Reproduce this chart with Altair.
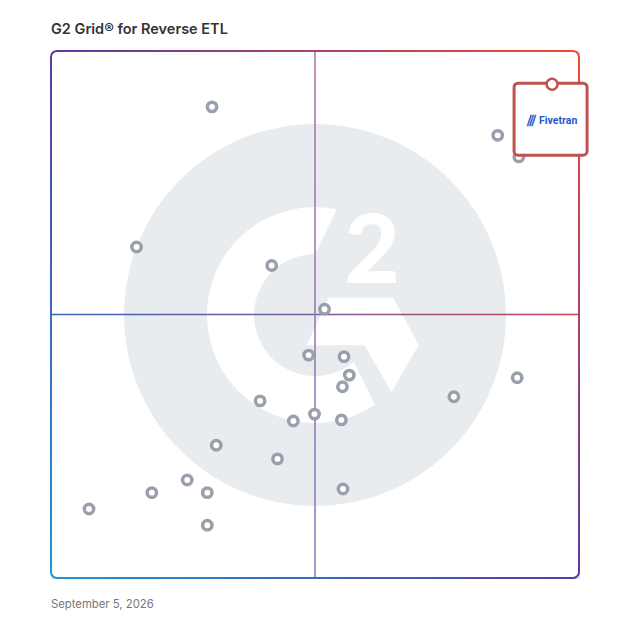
import math
import altair as alt
import pandas as pd

# ---- data ----
vendor_x = [30.5, 16.2, 41.8, 51.8, 48.8, 55.5, 56.5, 55.2, 39.6, 45.9, 49.9, 55.0,
            31.3, 42.9, 25.8, 19.1, 29.6, 7.2, 29.6, 55.3, 76.3, 88.3, 84.6, 88.6]
vendor_y = [89.4, 62.8, 59.3, 51.0, 42.3, 42.0, 38.5, 36.3, 33.6, 29.8, 31.1, 30.0,
            25.2, 22.6, 18.6, 16.2, 16.2, 13.1, 10.0, 16.9, 34.4, 38.0, 84.0, 79.9]
leader_name = ["Fivetran"]
leader_x = [94.9]
leader_y = [93.7]

title_text = "G2 Grid® for Reverse ETL"
date_text = "September 5, 2026"

# background logo shapes (data units)
logo_center = [50.0, 49.9]
logo_poly_id = [1] * 6 + [2] * 3 + [3] * 3
logo_poly_x = [52.65, 64.77, 69.60, 64.49, 59.38, 48.48,
               50.0, 50.0, 54.07,
               57.33, 56.38, 61.29]
logo_poly_y = [53.13, 53.13, 44.21, 35.39, 44.21, 44.21,
               61.5, 70.4, 69.98,
               40.97, 40.25, 32.81]

W, H = 528, 527
FONT = "Inter"
LOGO_GRAY = "#e9ecef"

xs = alt.Scale(domain=[0, 100], nice=False, zero=False)
ys = alt.Scale(domain=[0, 100], nice=False, zero=False)


def X(f="x"):
    return alt.X(f"{f}:Q", scale=xs, axis=None)


def Y(f="y"):
    return alt.Y(f"{f}:Q", scale=ys, axis=None)


center_df = pd.DataFrame({"x": [logo_center[0]], "y": [logo_center[1]]})
poly_df = pd.DataFrame({"id": logo_poly_id, "x": logo_poly_x, "y": logo_poly_y,
                        "o": list(range(len(logo_poly_x)))})
pts_df = pd.DataFrame({"x": vendor_x, "y": vendor_y})
lead_df = pd.DataFrame({"name": leader_name, "x": leader_x, "y": leader_y})
frame_df = pd.DataFrame({"x": [0], "x2": [100], "y": [0], "y2": [100]})
hline_df = pd.DataFrame({"x": [0], "x2": [100], "y": [50], "y2": [50]})
vline_df = pd.DataFrame({"x": [50], "x2": [50], "y": [0], "y2": [100]})

deg = math.pi / 180

logo_circle = alt.Chart(center_df).mark_arc(
    radius=191, theta=0, theta2=2 * math.pi, color=LOGO_GRAY
).encode(x=X(), y=Y())

logo_ring = alt.Chart(center_df).mark_arc(
    radius=108, radius2=61, theta=146.5 * deg, theta2=360 * deg, color="white"
).encode(x=X(), y=Y())

logo_polys = alt.Chart(poly_df).mark_line(
    filled=True, fill="white", stroke="white", strokeWidth=0.5, interpolate="linear-closed"
).encode(x=X(), y=Y(), detail="id:N", order="o:Q")

logo_two = alt.Chart(pd.DataFrame({"x": [60.8], "y": [56.0], "t": ["2"]})).mark_text(
    font="Lato", fontWeight=900, fontSize=96, color="white", baseline="alphabetic", align="center"
).encode(x=X(), y=Y(), text="t:N")

frame_grad = alt.LinearGradient(
    gradient="linear",
    stops=[alt.GradientStop(color="#1c97d8", offset=0),
           alt.GradientStop(color="#5b3aa2", offset=0.5),
           alt.GradientStop(color="#f04b2f", offset=1)],
    x1=0, y1=1, x2=1, y2=0,
)
frame = alt.Chart(frame_df).mark_rect(
    fillOpacity=0, stroke=frame_grad, strokeWidth=2, cornerRadius=6
).encode(x=X(), x2="x2:Q", y=Y(), y2="y2:Q")

h_grad = alt.LinearGradient(
    gradient="linear",
    stops=[alt.GradientStop(color="#3b66b6", offset=0),
           alt.GradientStop(color="#7a5a98", offset=0.5),
           alt.GradientStop(color="#c8404f", offset=1)],
    x1=0, y1=0, x2=1, y2=0,
)
v_grad = alt.LinearGradient(
    gradient="linear",
    stops=[alt.GradientStop(color="#b07aa6", offset=0),
           alt.GradientStop(color="#9a7ab0", offset=0.5),
           alt.GradientStop(color="#8a7ec0", offset=1)],
    x1=0, y1=0, x2=0, y2=1,
)
hline = alt.Chart(hline_df).mark_rect(fill=h_grad, yOffset=-0.8, y2Offset=0.8).encode(
    x=X(), x2="x2:Q", y=Y(), y2="y2:Q")
vline = alt.Chart(vline_df).mark_rect(fill=v_grad, xOffset=-0.8, x2Offset=0.8).encode(
    x=X(), x2="x2:Q", y=Y(), y2="y2:Q")

points = alt.Chart(pts_df).mark_point(
    shape="circle", size=88, fill="white", fillOpacity=1, stroke="#9aa0ab",
    strokeWidth=3.5, opacity=1
).encode(x=X(), y=Y())

lead_box = alt.Chart(lead_df).mark_rect(
    fill="white", stroke="#bf5150", strokeWidth=3, cornerRadius=4,
    xOffset=-38, x2Offset=35, yOffset=-1, y2Offset=71
).encode(x=X(), x2="x:Q", y=Y(), y2="y:Q")

lead_pin = alt.Chart(lead_df).mark_point(
    shape="circle", size=120, fill="white", fillOpacity=1, stroke="#bf5150",
    strokeWidth=2.5, opacity=1
).encode(x=X(), y=Y())

lead_text = alt.Chart(lead_df).mark_text(
    font="Roboto", fontWeight="bold", fontSize=10.5, color="#2457d6",
    align="left", baseline="middle", dx=-13, dy=37
).encode(x=X(), y=Y(), text="name:N")

lead_icon = alt.Chart(lead_df).mark_text(
    font="DejaVu Sans", fontWeight="bold", fontSize=15, color="#2457d6",
    align="center", baseline="middle", dx=-21, dy=37, text="⫻"
).encode(x=X(), y=Y())

title = alt.Chart(pd.DataFrame({"t": [title_text]})).mark_text(
    font=FONT, fontSize=14.5, fontWeight=600, color="#333333", align="left", baseline="alphabetic"
).encode(x=alt.value(0), y=alt.value(-17), text="t:N")

date = alt.Chart(pd.DataFrame({"t": [date_text]})).mark_text(
    font=FONT, fontSize=11.3, color="#777777", align="left", baseline="alphabetic"
).encode(x=alt.value(0), y=alt.value(H + 30), text="t:N")

chart = alt.layer(
    logo_circle, logo_ring, logo_polys, logo_two,
    hline, vline, frame, points, lead_box, lead_pin, lead_icon, lead_text, title, date
).properties(
    width=W, height=H,
    autosize=alt.AutoSizeParams(type="none"),
    padding={"left": 43, "top": 43, "right": 36, "bottom": 44},
).configure_view(stroke=None).configure(background="white")

chart.save("out.html", embed_options={"renderer": "svg", "actions": False})
